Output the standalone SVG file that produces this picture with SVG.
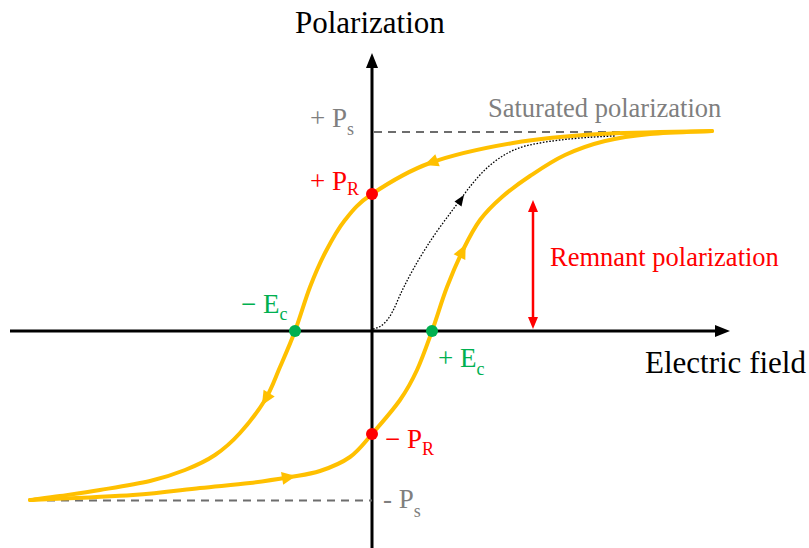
<svg xmlns="http://www.w3.org/2000/svg" xmlns:xlink="http://www.w3.org/1999/xlink" width="809" height="548" viewBox="0 0 809 548">
<style>
text{font-family:"Liberation Serif","Times New Roman",serif;}
.ax{stroke:#000;stroke-width:3;fill:none;}
.dash{stroke:#6d6d6d;stroke-width:2;stroke-dasharray:8 6;fill:none;}
.loop{stroke:#FFC000;stroke-width:4;fill:none;stroke-linecap:round;}
.dot{stroke:#000;stroke-width:1.3;stroke-dasharray:1.6 1.6;fill:none;}
.big{font-size:31px;fill:#000;}
.mid{font-size:26.5px;}
.lab{font-size:27px;}
.sub{font-size:18px;}
.gray{fill:#7f7f7f;}
.red{fill:#FF0000;}
.green{fill:#00B050;}
</style>
<defs>
<path id="oa" d="M6,0 L-8,-6.5 L-8,6.5 Z" fill="#FFC000"/>
</defs>
<rect width="809" height="548" fill="#fff"/>
<g id="axes">
<line class="ax" x1="372" y1="548" x2="372" y2="64"/>
<path d="M372,53 L378,68 L366,68 Z" fill="#000"/>
<line class="ax" x1="10" y1="331" x2="720" y2="331"/>
<path d="M730,331 L715,325 L715,337 Z" fill="#000"/>
</g>
<g id="connectors">
<line class="dash" x1="374" y1="132" x2="650" y2="132"/>
<line class="dash" x1="47" y1="500.5" x2="372" y2="500.5"/>
<path class="loop" d="M712,131 C693.3,131.5 633.2,132 600,134 S541.3,138.2 513,143 S453.5,154.5 430,163 S386.2,184.5 372,194 S352.8,210.2 345,220 S330.8,241.8 325,253 S315,274 310,287 S300,317.7 295,331 S285,355.5 280,367 S271.7,389 265,400 S248.3,423.8 240,433 S224.2,448.8 215,455 S195.8,465.7 185,470 S164.2,477.7 150,481 S115,487.5 100,490 S71.7,494.3 60,496 S35,499.3 30,500"/>
<path class="loop" d="M30,500 C47.2,499.2 104.7,497 133,495 S180.5,490 200,488 S235,484.8 250,483 S278.3,479 290,477 S310,474.3 320,471 S341.3,463.2 350,457 S363.7,443.5 372,434 S392.5,410.7 400,400 S411.7,381.5 417,370 S427,344.8 432,331 S441.8,300.5 447,287 S457.5,261.2 463,250 S473.5,228.8 480,220 S493.7,204.3 502,197 S519.5,183 530,176 S552.5,160.8 565,155 S590.8,144.5 605,141 S632.2,135.7 650,134 S701.7,131.5 712,131"/>
<use xlink:href="#oa" transform="translate(430,163) rotate(160)"/>
<use xlink:href="#oa" transform="translate(265,400) rotate(121.2)"/>
<use xlink:href="#oa" transform="translate(290,477) rotate(-9.7)"/>
<use xlink:href="#oa" transform="translate(463,250) rotate(-63.8)"/>
<path class="dot" d="M373,329 C385,327 391,316 397,302 C405,283 420,255 440,227 L460,200 C478,175 495,155 525,146 C555,139 590,137 615,136"/>
<path d="M464,195 L461.5,206.5 L454.5,201.5 Z" fill="#000"/>
<line x1="533" y1="210" x2="533" y2="318" stroke="#FF0000" stroke-width="2.5"/>
<path d="M533,200 L538,212 L528,212 Z" fill="#FF0000"/>
<path d="M533,329 L538,317 L528,317 Z" fill="#FF0000"/>
</g>
<g id="points">
<circle cx="372" cy="194" r="6" fill="#FF0000"/>
<circle cx="372" cy="434" r="6" fill="#FF0000"/>
<circle cx="295" cy="331" r="6" fill="#00B050"/>
<circle cx="432" cy="331" r="6" fill="#00B050"/>
</g>
<g id="label-polarization"><text class="big" x="295" y="33">Polarization</text></g>
<g id="label-efield"><text class="big" x="645" y="373">Electric field</text></g>
<g id="label-saturated"><text class="mid gray" x="488" y="117">Saturated polarization</text></g>
<g id="label-remnant"><text class="mid red" x="550" y="266">Remnant polarization</text></g>
<g id="label-plus-ps"><text class="lab gray" x="310" y="127">+ P<tspan class="sub" dy="8">s</tspan></text></g>
<g id="label-minus-ps"><text class="lab gray" x="383" y="508">- P<tspan class="sub" dy="9">s</tspan></text></g>
<g id="label-plus-pr"><text class="lab red" x="310" y="190">+ P<tspan class="sub" dy="5">R</tspan></text></g>
<g id="label-minus-pr"><text class="lab red" x="385" y="448">− P<tspan class="sub" dy="7">R</tspan></text></g>
<g id="label-minus-ec"><text class="lab green" x="241" y="313">− E<tspan class="sub" dy="7">c</tspan></text></g>
<g id="label-plus-ec"><text class="lab green" x="438" y="367">+ E<tspan class="sub" dy="8">c</tspan></text></g>
</svg>
